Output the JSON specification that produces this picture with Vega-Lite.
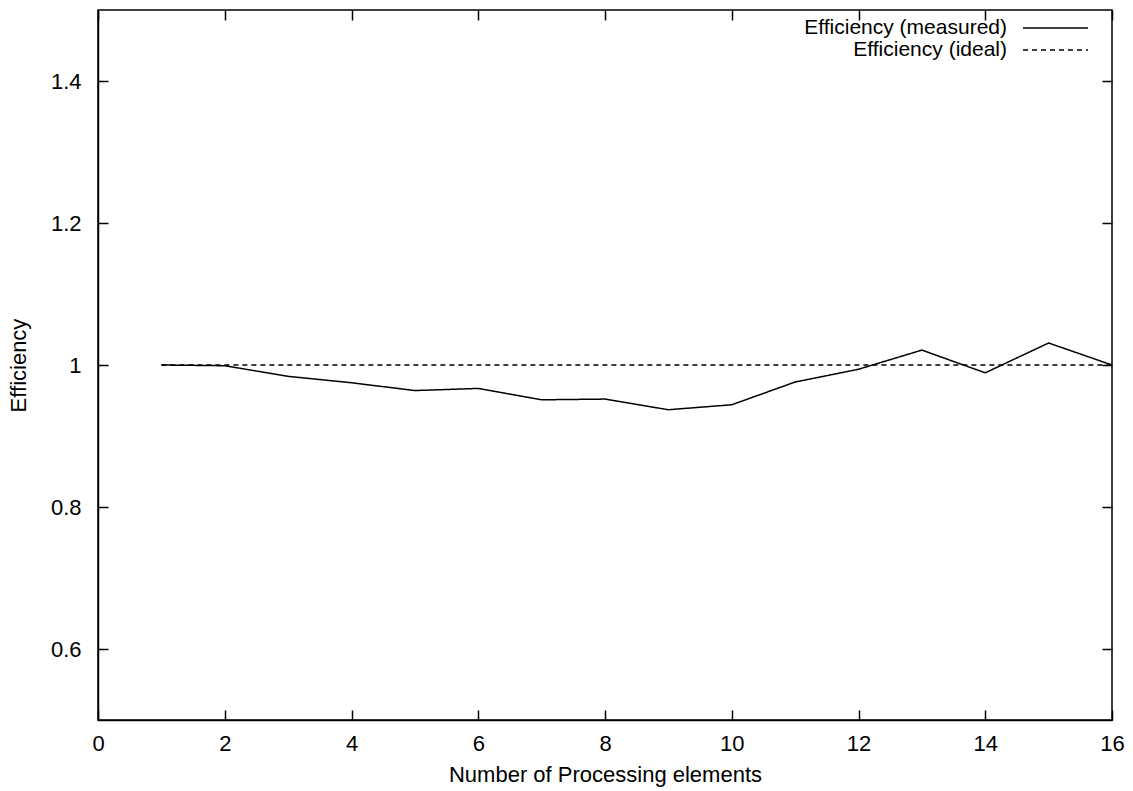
{
  "$schema": "https://vega.github.io/schema/vega-lite/v6.json",
  "width": 1014,
  "height": 710,
  "autosize": {"type": "none"},
  "padding": {"left": 98, "top": 10, "right": 21, "bottom": 71},
  "background": "white",
  "config": {
    "font": "Liberation Sans",
    "view": {"stroke": "black", "strokeWidth": 1.5},
    "axis": {
      "domainColor": "black",
      "domainWidth": 1.5,
      "tickColor": "black",
      "tickWidth": 1.5,
      "tickSize": -10,
      "grid": false,
      "labelFlush": false,
      "labelFont": "Liberation Sans",
      "labelFontSize": 22,
      "labelColor": "black",
      "titleFont": "Liberation Sans",
      "titleFontSize": 22,
      "titleFontWeight": "normal",
      "titleColor": "black"
    }
  },
  "data": {
    "values": [
      {"pe": 1, "series": "Efficiency (measured)", "eff": 1.0},
      {"pe": 2, "series": "Efficiency (measured)", "eff": 0.999},
      {"pe": 3, "series": "Efficiency (measured)", "eff": 0.984},
      {"pe": 4, "series": "Efficiency (measured)", "eff": 0.975},
      {"pe": 5, "series": "Efficiency (measured)", "eff": 0.964},
      {"pe": 6, "series": "Efficiency (measured)", "eff": 0.967},
      {"pe": 7, "series": "Efficiency (measured)", "eff": 0.951},
      {"pe": 8, "series": "Efficiency (measured)", "eff": 0.952},
      {"pe": 9, "series": "Efficiency (measured)", "eff": 0.937},
      {"pe": 10, "series": "Efficiency (measured)", "eff": 0.944},
      {"pe": 11, "series": "Efficiency (measured)", "eff": 0.976},
      {"pe": 12, "series": "Efficiency (measured)", "eff": 0.994},
      {"pe": 13, "series": "Efficiency (measured)", "eff": 1.021},
      {"pe": 14, "series": "Efficiency (measured)", "eff": 0.989},
      {"pe": 15, "series": "Efficiency (measured)", "eff": 1.031},
      {"pe": 16, "series": "Efficiency (measured)", "eff": 1.0},
      {"pe": 1, "series": "Efficiency (ideal)", "eff": 1.0},
      {"pe": 16, "series": "Efficiency (ideal)", "eff": 1.0}
    ]
  },
  "layer": [
    {
      "mark": {"type": "line", "color": "black", "strokeWidth": 1.5, "clip": true},
      "encoding": {
        "x": {
          "field": "pe", "type": "quantitative",
          "scale": {"domain": [0, 16], "nice": false, "zero": false},
          "axis": {"values": [0, 2, 4, 6, 8, 10, 12, 14, 16], "title": "Number of Processing elements", "labelPadding": 23, "titlePadding": 10}
        },
        "y": {
          "field": "eff", "type": "quantitative",
          "scale": {"domain": [0.5, 1.5], "nice": false, "zero": false},
          "axis": {"values": [0.6, 0.8, 1.0, 1.2, 1.4], "format": "~g", "title": "Efficiency", "labelPadding": 27, "titlePadding": 20}
        },
        "strokeDash": {
          "field": "series", "type": "nominal",
          "scale": {"domain": ["Efficiency (measured)", "Efficiency (ideal)"], "range": [[1, 0], [5, 4]]},
          "legend": {
            "title": null,
            "orient": "none",
            "legendX": 887,
            "legendY": 7,
            "padding": 0,
            "labelFontSize": 21,
            "labelFont": "Liberation Sans",
            "labelColor": "black",
            "labelLimit": 0,
            "labelOffset": 0,
            "labelAlign": "right",
            "symbolType": "M2.7,0H9.2",
            "symbolStrokeColor": "black",
            "symbolFillColor": "transparent",
            "symbolStrokeWidth": 1.5,
            "symbolSize": 400,
            "rowPadding": 1
          }
        },
        "detail": {"field": "series"}
      }
    },
    {
      "mark": {"type": "rule", "color": "transparent"},
      "encoding": {
        "x": {"field": "pe", "type": "quantitative", "axis": {"orient": "top", "values": [0, 2, 4, 6, 8, 10, 12, 14, 16], "labels": false, "title": null, "domain": false}}
      }
    },
    {
      "mark": {"type": "rule", "color": "transparent"},
      "encoding": {
        "y": {"field": "eff", "type": "quantitative", "axis": {"orient": "right", "values": [0.6, 0.8, 1.0, 1.2, 1.4], "labels": false, "title": null, "domain": false}}
      }
    }
  ],
  "resolve": {"axis": {"x": "independent", "y": "independent"}}
}
